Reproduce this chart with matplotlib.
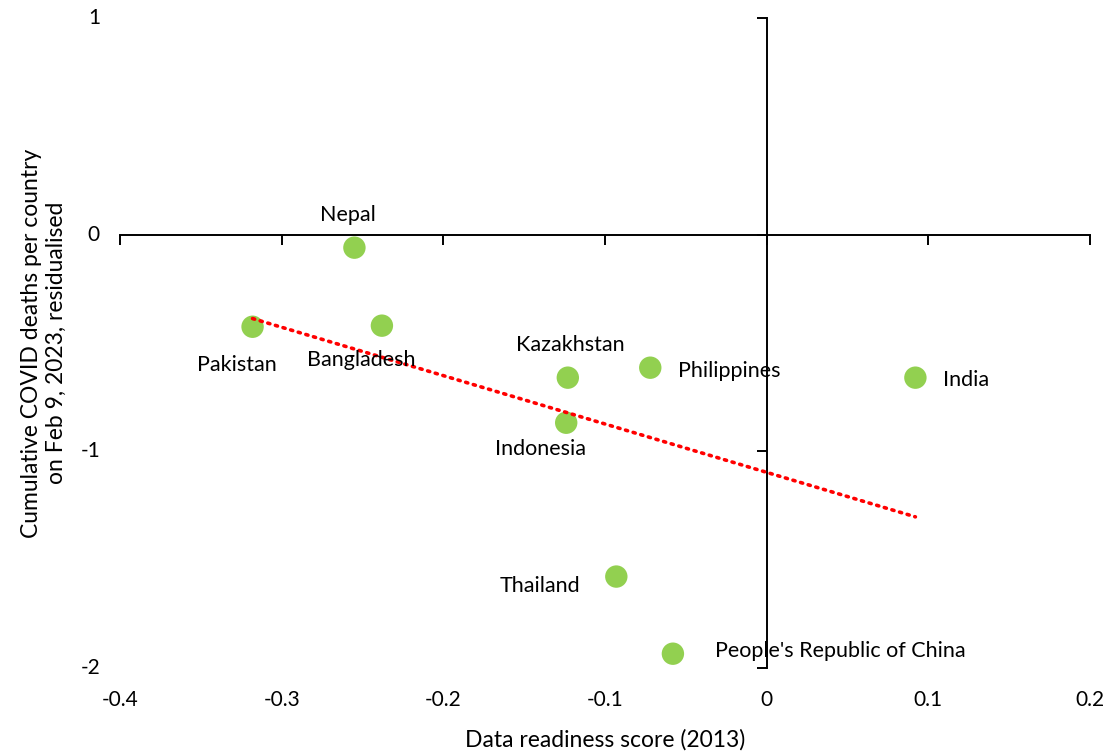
import numpy as np
import matplotlib
matplotlib.use("Agg")
import matplotlib.pyplot as plt
import matplotlib.transforms as mtransforms

plt.rcParams['font.family'] = ['Lato', 'DejaVu Sans']

countries = ["Nepal", "Pakistan", "Bangladesh", "Kazakhstan", "Indonesia",
             "Philippines", "India", "Thailand", "People's Republic of China"]
readiness = [-0.255, -0.318, -0.238, -0.123, -0.124, -0.072, 0.092, -0.093, -0.058]
deaths_resid = [-0.06, -0.425, -0.42, -0.66, -0.868, -0.614, -0.66, -1.578, -1.934]

x_ticks = [-0.4, -0.3, -0.2, -0.1, 0, 0.1, 0.2]
x_tick_labels = ["-0.4", "-0.3", "-0.2", "-0.1", "0", "0.1", "0.2"]
y_ticks = [-2, -1, 0, 1]
y_tick_labels = ["-2", "-1", "0", "1"]

# label placement: (dx px, dy px, ha)
label_pos = {
    "Nepal": (-7, 33, "center"),
    "Pakistan": (-16, -38, "center"),
    "Bangladesh": (-21, -34, "center"),
    "Kazakhstan": (2, 33, "center"),
    "Indonesia": (-26, -26, "center"),
    "Philippines": (28, -3, "left"),
    "India": (28, -2, "left"),
    "Thailand": (-36, -9, "right"),
    "People's Republic of China": (42, 3, "left"),
}

fig = plt.figure(figsize=(11.09, 7.53), dpi=100)
ax = fig.add_axes([120 / 1109, 85 / 753, 970 / 1109, 650 / 753])
ax.set_xlim(-0.4, 0.2)
ax.set_ylim(-2, 1)

# spines crossing at the origin
for side in ("top", "right"):
    ax.spines[side].set_visible(False)
ax.spines["left"].set_position(("data", 0))
ax.spines["bottom"].set_position(("data", 0))
for side in ("left", "bottom"):
    ax.spines[side].set_linewidth(1.4)
    ax.spines[side].set_color("black")
ax.set_xticks(x_ticks)
ax.set_yticks(y_ticks)
ax.tick_params(axis="both", direction="out", length=7, width=1.4,
               labelbottom=False, labelleft=False)

# tick labels placed along the figure edges
bt = mtransforms.blended_transform_factory(ax.transData, ax.transAxes)
for v, lab in zip(x_ticks, x_tick_labels):
    ax.text(v, -32 / 650, lab, transform=bt, ha="center", va="center", fontsize=15)
lt = mtransforms.blended_transform_factory(ax.transAxes, ax.transData)
for v, lab in zip(y_ticks, y_tick_labels):
    ax.text(-20 / 970, v, lab, transform=lt, ha="right", va="center", fontsize=15)

# OLS trendline over the data range
coef = np.polyfit(readiness, deaths_resid, 1)
xs = np.array([min(readiness), max(readiness)])
ax.plot(xs, np.polyval(coef, xs), color="#FF0000", linestyle=(0, (0.6, 1.6)),
        linewidth=2.6, dash_capstyle="round", zorder=3)

ax.scatter(readiness, deaths_resid, s=260, color="#92D050", edgecolors="none", zorder=2)

for name, xv, yv in zip(countries, readiness, deaths_resid):
    dx, dy, ha = label_pos[name]
    ax.annotate(name, (xv, yv), xytext=(dx, dy), textcoords="offset pixels",
                ha=ha, va="center", fontsize=15.5, zorder=4)

ax.text(0.5, -72 / 650, "Data readiness score (2013)", transform=ax.transAxes,
        ha="center", va="center", fontsize=16.5)
ax.text(-76 / 970, 0.5,
        "Cumulative COVID deaths per country\non Feb 9, 2023, residualised",
        transform=ax.transAxes, rotation=90, ha="center", va="center",
        fontsize=16.5, linespacing=1.2)

fig.savefig("out.png", dpi=100)
